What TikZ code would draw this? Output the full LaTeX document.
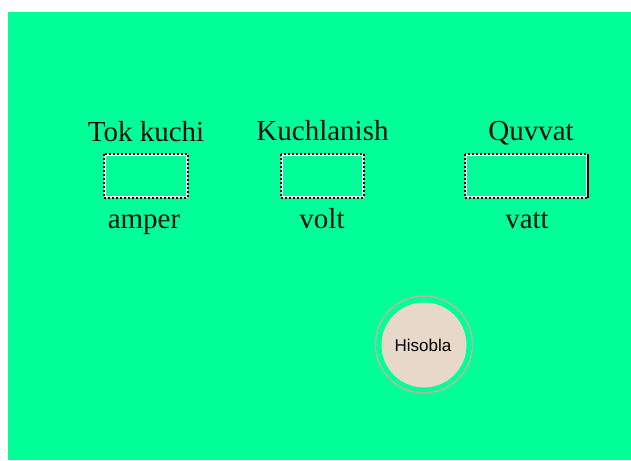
\documentclass[tikz,border=0pt]{standalone}
\usepackage{fontspec}
\setmainfont{Liberation Serif}
\newfontfamily\btnfont{Liberation Sans}
\definecolor{panelgreen}{RGB}{0,255,153}
\definecolor{btnfill}{RGB}{232,216,200}
\definecolor{btnring}{RGB}{176,184,168}
\tikzset{
  px/.style={x=1pt,y=-1pt},
  caption/.style={inner sep=0pt,anchor=base,font=\fontsize{29}{32}\selectfont,text=black!95},
  inputbox/.style={draw=white,line width=1.7pt,minimum width=#1,minimum height=42pt,inner sep=0pt},
  dashover/.style={draw=black,line width=1.7pt,dash pattern=on 2pt off 2pt},
}
\begin{document}
\begin{tikzpicture}[px]
  \useasboundingbox (0,0) rectangle (631,460);
  \fill[white] (0,0) rectangle (631,460);
  \fill[panelgreen] (8,12) rectangle (631,460);

  % headings
  \node[caption] (h1) at (146,141) {Tok kuchi};
  \node[caption] (h2) at (322.5,140) {Kuchlanish};
  \node[caption] (h3) at (531,140) {Quvvat};

  % entry fields
  \node[inputbox=82pt] (b1) at (146,176) {};
  \node[inputbox=81pt] (b2) at (322.5,176) {};
  \node[inputbox=121pt] (b3) at (526.5,176) {};
  \foreach \b in {b1,b2,b3}
    \draw[dashover] (\b.north west) rectangle (\b.south east);
  \draw[black,line width=1.7pt] (b3.north east) -- (b3.south east);

  % units
  \node[caption] (u1) at (144,228) {amper};
  \node[caption] (u2) at (322,228) {volt};
  \node[caption] (u3) at (527,228) {vatt};

  % button
  \draw[btnring,line width=1.5pt] (424,344.5) circle (48.5);
  \fill[btnfill] (424,345) circle (42.5);
  \node[font=\btnfont\fontsize{17}{19}\selectfont,inner sep=0pt] (calc) at (423,345.5) {Hisobla};
\end{tikzpicture}
\end{document}
